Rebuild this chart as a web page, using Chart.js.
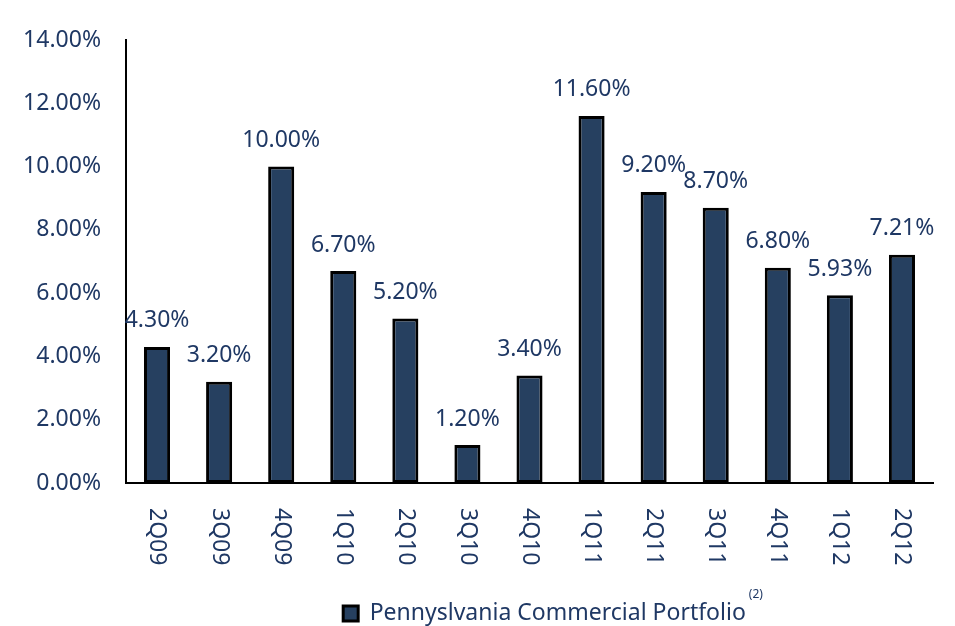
<!DOCTYPE html>
<html>
<head>
<meta charset="utf-8">
<script src="https://cdn.jsdelivr.net/npm/chart.js@4.4.1/dist/chart.umd.min.js"></script>
<style>
  html, body { margin: 0; padding: 0; background: #fff; }
  #wrap { width: 955px; height: 626px; }
</style>
</head>
<body>
<div id="wrap"><canvas id="portfolioChart" width="955" height="626"></canvas></div>
<script>
const quarters = ["2Q09", "3Q09", "4Q09", "1Q10", "2Q10", "3Q10", "4Q10", "1Q11", "2Q11", "3Q11", "4Q11", "1Q12", "2Q12"];
const rates = [4.30, 3.20, 10.00, 6.70, 5.20, 1.20, 3.40, 11.60, 9.20, 8.70, 6.80, 5.93, 7.21];
const seriesName = "Pennyslvania Commercial Portfolio";
const seriesNote = "(2)";

const textColor = "#1f3864";
const fontFamily = "'Noto Sans', sans-serif";
const legendShiftX = 78;
const legendShiftY = 9;

// bar value labels above each bar
const valueLabels = {
    id: "valueLabels",
    afterDatasetsDraw(chart) {
        const ctx = chart.ctx;
        const meta = chart.getDatasetMeta(0);
        ctx.save();
        ctx.font = "23px " + fontFamily;
        ctx.fillStyle = textColor;
        ctx.textAlign = "center";
        ctx.textBaseline = "middle";
        meta.data.forEach((bar, i) => {
            ctx.fillText(rates[i].toFixed(2) + "%", bar.x, bar.y - 26);
        });
        ctx.restore();
    }
};

// legend sits right of centre in the original
const moveLegend = {
    id: "moveLegend",
    afterLayout(chart) {
        const lg = chart.legend;
        lg.left += legendShiftX;
        lg.right += legendShiftX;
        lg.top += legendShiftY;
        lg.bottom += legendShiftY;
        lg.legendHitBoxes.forEach((b) => {
            b.left += legendShiftX;
            b.top += legendShiftY;
        });
    }
};

// x labels read top-to-bottom, plus the footnote mark on the legend
const extras = {
    id: "extras",
    afterDraw(chart) {
        const ctx = chart.ctx;
        const x = chart.scales.x;
        ctx.save();
        ctx.font = "23px " + fontFamily;
        ctx.fillStyle = textColor;
        ctx.textAlign = "left";
        ctx.textBaseline = "middle";
        quarters.forEach((q, i) => {
            ctx.save();
            ctx.translate(x.getPixelForValue(i), x.top + 25);
            ctx.rotate(Math.PI / 2);
            ctx.fillText(q, 0, 0);
            ctx.restore();
        });

        const box = chart.legend.legendHitBoxes[0];
        if (box) {
            ctx.font = "12px " + fontFamily;
            ctx.textBaseline = "top";
            ctx.fillText(seriesNote, box.left + box.width + 3, box.top - 22);
        }
        ctx.restore();
    }
};

const ctx = document.getElementById("portfolioChart");
const chart = new Chart(ctx, {
    type: "bar",
    data: {
        labels: quarters,
        datasets: [{
            label: seriesName,
            data: rates,
            backgroundColor: "#264060",
            borderColor: "#000000",
            borderWidth: 3,
            borderSkipped: false,
            barPercentage: 0.42,
            categoryPercentage: 1.0
        }]
    },
    options: {
        responsive: false,
        animation: false,
        layout: {padding: {top: 40, right: 22, bottom: 0, left: 0}},
        plugins: {
            legend: {
                position: "bottom",
                labels: {
                    color: textColor,
                    font: {family: fontFamily, size: 23},
                    boxWidth: 15,
                    boxHeight: 15,
                    padding: 4
                }
            },
            tooltip: {enabled: false}
        },
        scales: {
            x: {
                grid: {display: false, drawTicks: false},
                border: {display: true, color: "#000", width: 2},
                ticks: {display: false},
                afterFit: (scale) => { scale.height = 106; }
            },
            y: {
                min: 0,
                max: 14,
                grid: {display: false, drawTicks: false},
                border: {display: true, color: "#000", width: 2},
                ticks: {
                    stepSize: 2,
                    padding: 25,
                    color: textColor,
                    font: {family: fontFamily, size: 23},
                    callback: (v) => v.toFixed(2) + "%"
                },
                afterFit: (scale) => { scale.width = 126; }
            }
        }
    },
    plugins: [valueLabels, moveLegend, extras]
});
</script>
</body>
</html>
